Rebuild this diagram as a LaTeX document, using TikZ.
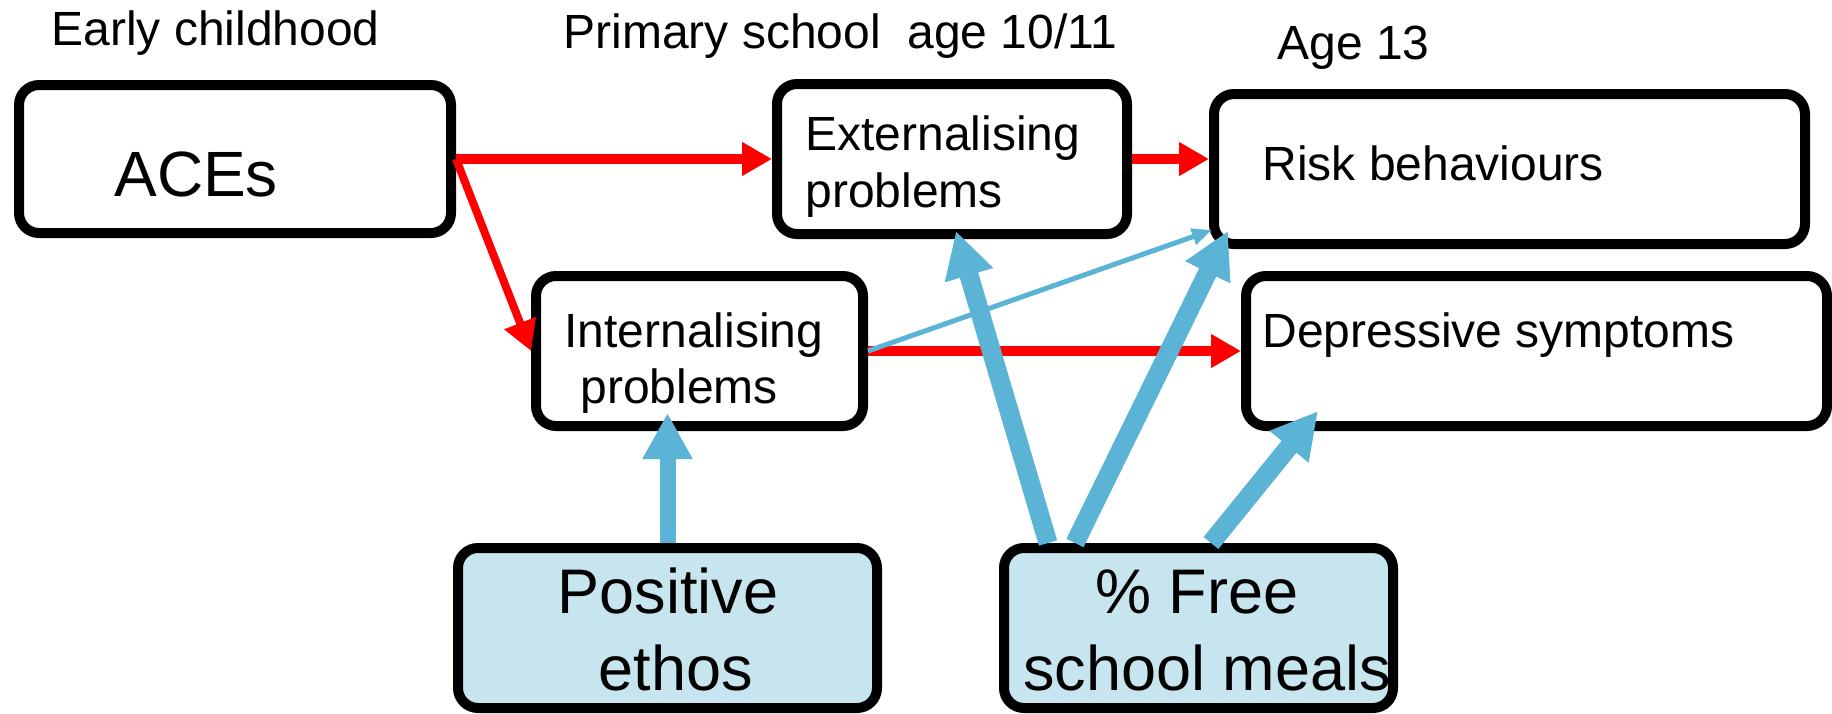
\documentclass[tikz,border=0pt]{standalone}
\usepackage{fontspec}
\setmainfont{Liberation Sans}
\usetikzlibrary{arrows.meta,calc}
\definecolor{arrowred}{RGB}{255,0,0}
\definecolor{pathblue}{RGB}{91,180,214}
\definecolor{schoolfill}{RGB}{199,229,239}

\begin{document}
\begin{tikzpicture}[x=0.5pt,y=-0.5pt,
  box/.style={draw=black, line width=5pt, rounded corners=10pt, fill=white, inner sep=0pt},
  schoolbox/.style={box, fill=schoolfill},
  titletxt/.style={inner sep=0pt, anchor=base west, font=\fontsize{24}{28.5}\selectfont},
  boxtxt/.style={inner sep=0pt, anchor=base west, align=left, font=\fontsize{24}{28.5}\selectfont},
  bigtxt/.style={inner sep=0pt, anchor=base, align=center, font=\fontsize{31.5}{38.5}\selectfont},
  redarrow/.style={draw=arrowred, line width=5pt, -{Triangle[length=15pt,width=16pt]}},
  bluethick/.style={draw=pathblue, line width=9.5pt, -{Triangle[length=23pt,width=23.5pt]}},
  bluethin/.style={draw=pathblue, line width=2.5pt, -{Triangle[length=10pt,width=8pt]}}
]
\useasboundingbox (0,0) rectangle (1832,713);

% stage headings
\node[titletxt] (tEarly) at (51,45) {Early childhood};
\node[titletxt] (tPrimary) at (563,48) {Primary school\ \ age 10/11};
\node[titletxt] (tAge) at (1277,59) {Age 13};

% outcome and exposure boxes
\node[box, minimum width=216pt, minimum height=74pt] (aces) at (235,159) {};
\node[box, minimum width=175pt, minimum height=75pt] (ext) at (952,159) {};
\node[box, minimum width=295.5pt, minimum height=75pt] (risk) at (1509.5,169) {};
\node[box, minimum width=290.5pt, minimum height=75pt] (dep) at (1536.5,351) {};
\node[box, minimum width=163.5pt, minimum height=75pt] (int) at (699.5,351) {};

% school-level boxes
\node[schoolbox, minimum width=209.5pt, minimum height=80pt] (pe) at (667.5,628) {};
\node[schoolbox, minimum width=194.5pt, minimum height=80pt] (fsm) at (1198.5,628) {};

% box texts (multi-line texts are placed by the baseline of their last line)
\node[inner sep=0pt, anchor=base west, font=\fontsize{32}{38}\selectfont] (tAces) at (114,196) {ACEs};
\node[boxtxt] (tExt) at (805,207) {Externalising\\problems};
\node[boxtxt] (tRisk) at (1262,180) {Risk behaviours};
\node[boxtxt] (tDep) at (1262,347) {Depressive symptoms};
\node[boxtxt, font=\fontsize{24}{28}\selectfont] (tInt) at (564,403) {Internalising\\\hspace*{8pt}problems};
\node[bigtxt] (tPE) at (668,690) {Positive\\\hspace*{8pt}ethos};
\node[bigtxt] (tFSM) at (1197,690) {\% Free\\\hspace*{10pt}school meals};

% adverse pathways
\draw[redarrow] (aces.east) -- (ext.west);
\draw[redarrow, line width=4pt] (aces.east) -- (int.west);
\draw[redarrow] (ext.east) -- (ext.east -| risk.west);
\draw[redarrow] (int.east) -- (dep.west);

% school-level pathways
\draw[bluethick, line width=8pt] (pe.north) -- ($(pe.north |- int.south)+(0,-18)$);
\draw[bluethick] ($(fsm.north)+(-150.5,0)$) -- ($(ext.south)+(4,-8)$);
\draw[bluethick] ($(fsm.north)+(-123.5,0)$) -- ($(risk.south west)+(19,-18)$);
\draw[bluethick] ($(fsm.north)+(12.5,0)$) -- ($(dep.south west)+(77,-20)$);
\draw[bluethin] (int.east) -- ($(risk.south west)+(3,-19)$);
\end{tikzpicture}
\end{document}
